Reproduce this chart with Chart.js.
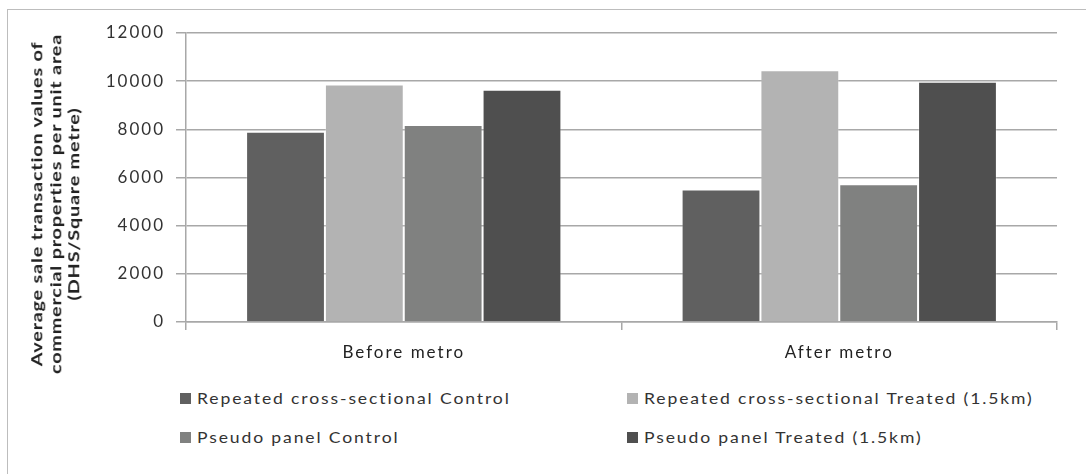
<!DOCTYPE html>
<html>
<head>
<meta charset="utf-8">
<script src="https://cdn.jsdelivr.net/npm/chart.js@4"></script>
<style>
  body { margin: 0; background: #fff; width: 1086px; height: 474px; overflow: hidden; position: relative; }
  #frame { position: absolute; left: 7px; top: 9px; width: 1090px; height: 480px;
           border-left: 1px solid #bdbdbd; border-top: 1px solid #bdbdbd; }
  #wrap { position: absolute; left: 0; top: 0; width: 1086px; height: 375px; }
  #ytitle { position: absolute; left: 55px; top: 204px; width: 300px;
            transform: translate(-50%, -50%) rotate(-90deg) scaleX(1.32);
            font: bold 15px Lato, sans-serif; letter-spacing: 0.6px; line-height: 18.5px;
            text-align: center; color: #222; white-space: nowrap; }
  #legend { position: absolute; left: 180px; top: 388px; display: grid;
            grid-template-columns: 447px auto; row-gap: 19px;
            font: 15px Lato, sans-serif; letter-spacing: 1.6px; color: #333; }
  .item { display: flex; align-items: center; height: 20px; white-space: nowrap; }
  .box { width: 11px; height: 11px; margin-right: 6px; flex: none; }
  .txt { display: inline-block; transform: scaleX(1.17); transform-origin: left center; }
</style>
</head>
<body>
<div id="frame"></div>
<div id="wrap"><canvas id="chart"></canvas></div>
<div id="ytitle">Average sale transaction values of<br>commercial properties per unit area<br>(DHS/Square metre)</div>
<div id="legend"></div>
<script>
// data
const categories = ['Before metro', 'After metro'];
const seriesNames = [
  'Repeated cross-sectional Control',
  'Repeated cross-sectional Treated (1.5km)',
  'Pseudo panel Control',
  'Pseudo panel Treated (1.5km)'
];
const rcsControl = [7900, 5500];
const rcsTreated = [9860, 10450];
const ppControl  = [8180, 5720];
const ppTreated  = [9640, 9980];
const seriesColors = ['#606060', '#b3b3b3', '#808180', '#4f4f4f'];
const yTicks = [0, 2000, 4000, 6000, 8000, 10000, 12000];

const seriesValues = [rcsControl, rcsTreated, ppControl, ppTreated];
const gridCol = '#a8a8a8';

// canvas letter spacing, text in the picture is wide
const spacing = {
  id: 'spacing',
  beforeLayout(chart) { chart.ctx.letterSpacing = '2px'; },
  beforeDraw(chart) { chart.ctx.letterSpacing = '2px'; }
};

const ctx = document.getElementById('chart').getContext('2d');
const chart = new Chart(ctx, {
  type: 'bar',
  data: {
    labels: categories,
    datasets: seriesNames.map((name, i) => ({
      label: name,
      data: seriesValues[i],
      backgroundColor: seriesColors[i],
      borderColor: 'rgba(255,255,255,0.25)',
      borderWidth: 1,
      categoryPercentage: 0.724,
      barPercentage: 1
    }))
  },
  options: {
    responsive: true,
    maintainAspectRatio: false,
    animation: false,
    layout: { padding: { top: 33, right: 29, bottom: 0, left: 0 } },
    plugins: {
      legend: { display: false },
      tooltip: { enabled: false }
    },
    scales: {
      x: {
        afterFit(scale) { scale.height = 53; },
        grid: { offset: true, drawOnChartArea: false, tickLength: 8, color: gridCol, lineWidth: 1.5 },
        border: { color: gridCol, width: 1.5 },
        ticks: { color: '#222', padding: 12, font: { family: 'Lato', size: 17 } }
      },
      y: {
        min: 0,
        max: 12000,
        afterFit(scale) { scale.width = 186; },
        afterBuildTicks(scale) { scale.ticks = yTicks.map(v => ({ value: v })); },
        grid: { color: gridCol, lineWidth: 1.5, tickLength: 10 },
        border: { color: gridCol, width: 1.5 },
        ticks: {
          color: '#333', padding: 11, font: { family: 'Lato', size: 17 },
          callback: v => String(v)
        }
      }
    }
  },
  plugins: [spacing]
});

// legend, two columns like the original
const legend = document.getElementById('legend');
seriesNames.forEach((name, i) => {
  const item = document.createElement('div');
  item.className = 'item';
  item.innerHTML = '<span class="box" style="background:' + seriesColors[i] + '"></span><span class="txt">' + name + '</span>';
  legend.appendChild(item);
});
</script>
</body>
</html>
